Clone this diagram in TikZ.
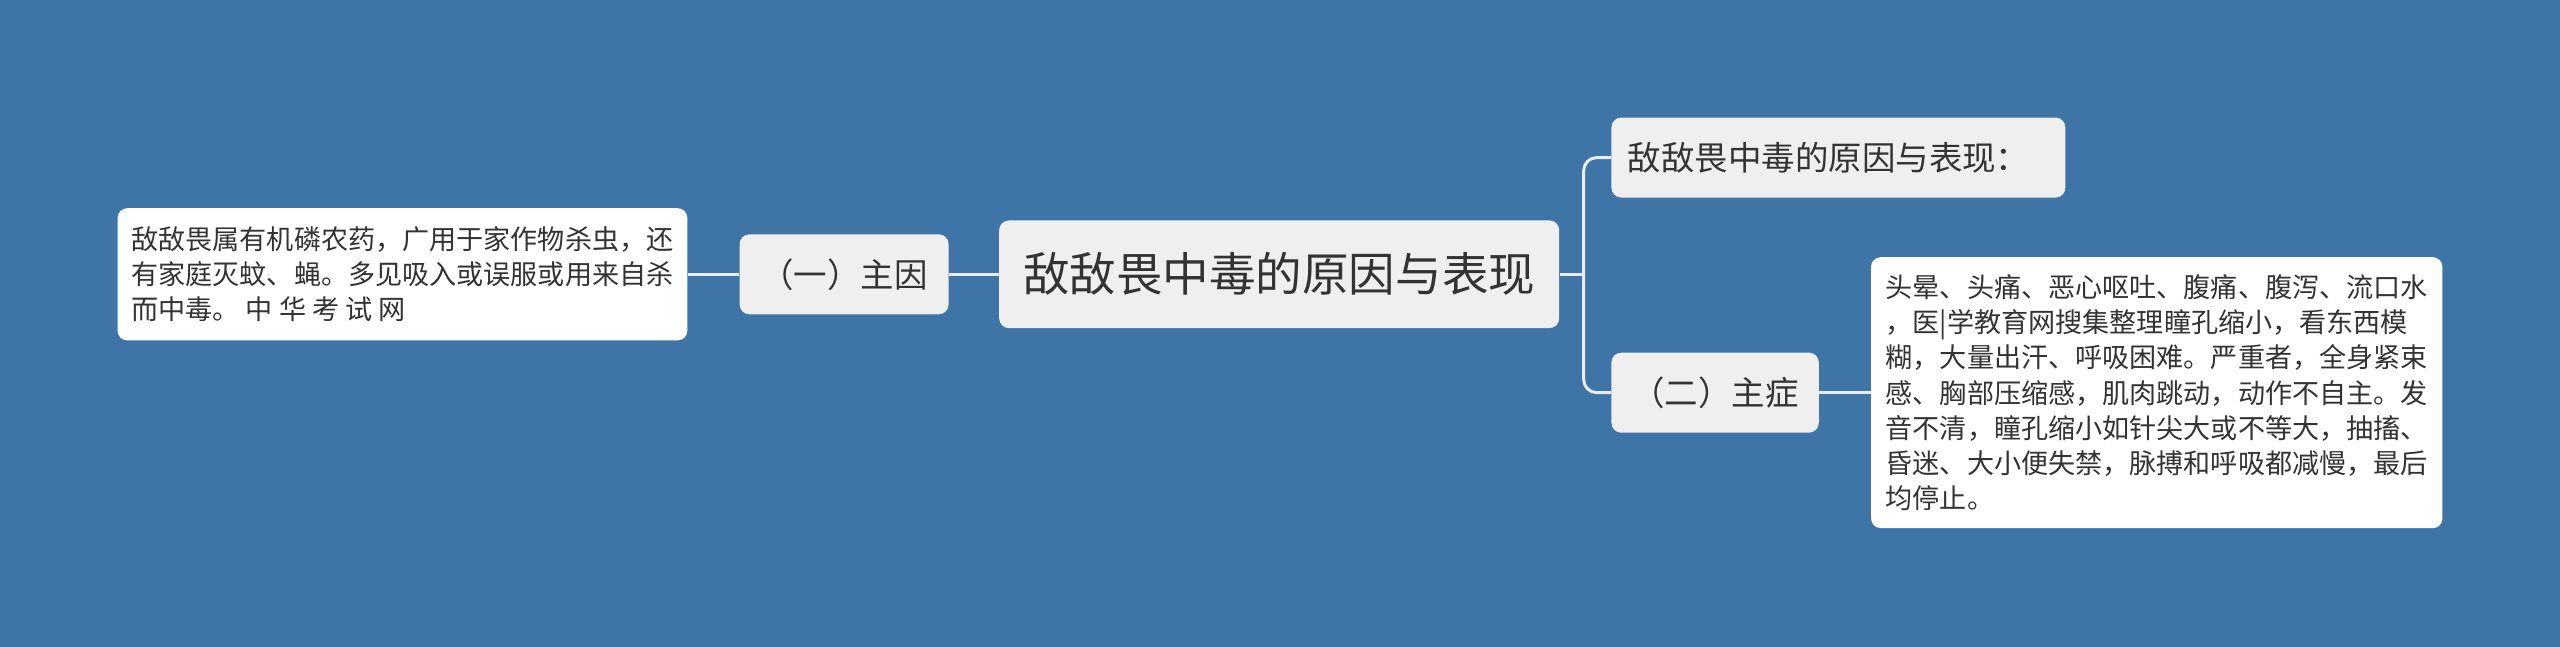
\documentclass[tikz,border=0pt]{standalone}
\usepackage{fontspec}
\newfontfamily\cjk{Noto Sans CJK SC}
\definecolor{bg}{HTML}{3F74A6}
\definecolor{boxgray}{HTML}{EFEFEF}
\definecolor{txt}{HTML}{333333}
\definecolor{lc}{HTML}{E9EEF3}
\begin{document}
\begin{tikzpicture}[x=1pt,y=-1pt,
  base/.style={rounded corners=6pt, inner sep=0pt, text=txt, anchor=center},
  rootbox/.style={base, fill=boxgray, font={\cjk\fontsize{28.5}{34}\selectfont}},
  midbox/.style={base, fill=boxgray, font={\cjk\fontsize{20.5}{25}\selectfont}},
  detailbox/.style={base, fill=white, align=left, font={\cjk\fontsize{16.6}{21.5}\selectfont}},
  conn/.style={draw=lc, line width=1.8pt}]
\fill[bg] (0,0) rectangle (1568,396);
\useasboundingbox (0,0) rectangle (1568,396);

\node[rootbox, minimum width=343pt, minimum height=66pt] (root) at (783.5,168) {敌敌畏中毒的原因与表现};
\node[midbox, minimum width=128pt, minimum height=49pt] (cause) at (517,168) {（一）主因};
\node[detailbox, minimum width=349pt, minimum height=81pt] (causetext) at (246.5,168)
  {敌敌畏属有机磷农药，广用于家作物杀虫，还\\有家庭灭蚊、蝇。多见吸入或误服或用来自杀\\而中毒。 中 华 考 试 网};
\node[midbox, minimum width=278pt, minimum height=49pt, text width=258pt, align=left] (topr) at (1126,96.5) {敌敌畏中毒的原因与表现：};
\node[midbox, minimum width=127pt, minimum height=49pt] (sym) at (1050.5,240.5) {（二）主症};
\node[detailbox, minimum width=350pt, minimum height=166pt] (symtext) at (1321,240.5)
  {头晕、头痛、恶心呕吐、腹痛、腹泻、流口水\\，医|学教育网搜集整理瞳孔缩小，看东西模\\糊，大量出汗、呼吸困难。严重者，全身紧束\\感、胸部压缩感，肌肉跳动，动作不自主。发\\音不清，瞳孔缩小如针尖大或不等大，抽搐、\\昏迷、大小便失禁，脉搏和呼吸都减慢，最后\\均停止。};

\coordinate (fork) at (970,168);
\draw[conn] (root.east) -- (fork);
\draw[conn, rounded corners=8pt] (topr.west) -| (fork) |- (sym.west);
\draw[conn] (root.west) -- (cause.east);
\draw[conn] (cause.west) -- (causetext.east);
\draw[conn] (sym.east) -- (symtext.west);
\end{tikzpicture}
\end{document}
